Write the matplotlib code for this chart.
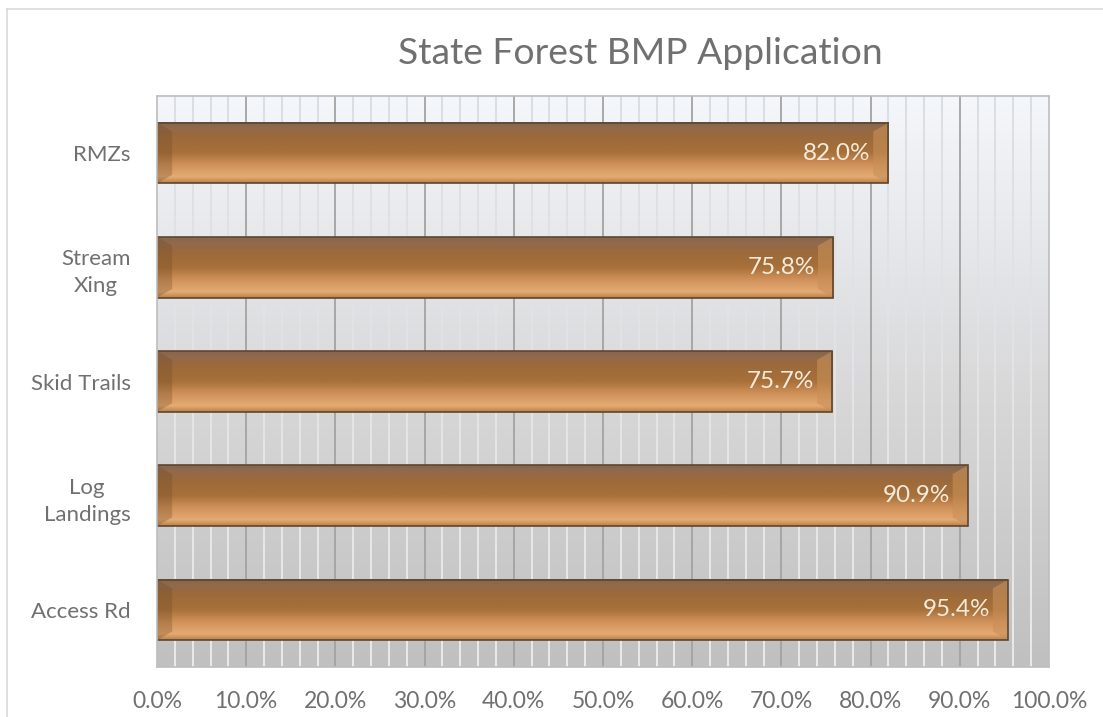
import numpy as np
import matplotlib.pyplot as plt
from matplotlib.colors import LinearSegmentedColormap, to_rgb
from matplotlib.collections import LineCollection
from matplotlib.patches import Polygon, Rectangle
from matplotlib.lines import Line2D

plt.rcParams['font.family'] = ['Lato', 'DejaVu Sans']

# data (bottom to top)
categories = ['Access Rd', 'Log\nLandings', 'Skid Trails', 'Stream\nXing', 'RMZs']
values = [95.4, 90.9, 75.7, 75.8, 82.0]
xticks = [0, 10, 20, 30, 40, 50, 60, 70, 80, 90, 100]

text_gray = '#707070'
W, H = 1103, 717

fig = plt.figure(figsize=(W / 100, H / 100), dpi=100)
# chart area border (only top/left inside the image)
fig.add_artist(Line2D([7 / W, 1], [1 - 9 / H, 1 - 9 / H], color='#d9d9d9', lw=1.2))
fig.add_artist(Line2D([7 / W, 7 / W], [0, 1 - 9 / H], color='#d9d9d9', lw=1.2))

ax = fig.add_axes([157 / W, 1 - 667 / H, (1049 - 157) / W, (667 - 96) / H])
ax.set_xlim(0, 100)
ax.set_ylim(-0.5, len(categories) - 0.5)

# background gradient (light top -> gray bottom)
bg = LinearSegmentedColormap.from_list('bg', ['#c0c0c0', '#d9d9da', '#f4f7fb'])
grad = np.linspace(0, 1, 256).reshape(-1, 1)
ax.imshow(grad, cmap=bg, aspect='auto', extent=(0, 1, 0, 1), origin='lower',
          transform=ax.transAxes, zorder=0)

# minor gridlines, color shifts from white (bottom) to light gray (top)
n = 40
ys = np.linspace(0, 1, n + 1)
c_bot, c_top = np.array(to_rgb('#f2f2f2')), np.array(to_rgb('#d6dae0'))
segs, cols = [], []
for x in np.arange(2, 100, 2):
    if x % 10 == 0:
        continue
    for i in range(n):
        segs.append([(x, ys[i]), (x, ys[i + 1])])
        t = (ys[i] + ys[i + 1]) / 2
        cols.append(c_bot * (1 - t) + c_top * t)
ax.add_collection(LineCollection(segs, colors=cols, linewidths=1.2,
                                 transform=ax.get_xaxis_transform(), zorder=1))
for x in xticks[1:-1]:
    ax.axvline(x, color='#a3a3a3', lw=1.3, zorder=1.5)

# bars with a bevel look
bar_cmap = LinearSegmentedColormap.from_list(
    'bar', [(0, '#b88048'), (0.1, '#e4ab72'), (0.3, '#d0925a'), (0.5, '#a8703a'),
            (0.75, '#9c6a3a'), (0.9, '#92694a'), (1, '#85674e')])
h = 0.53
for i, v in enumerate(values):
    y0, y1 = i - h / 2, i + h / 2
    ax.imshow(grad, cmap=bar_cmap, aspect='auto', extent=(0, v, y0, y1),
              origin='lower', zorder=2)
    bw, bh = 1.7, 0.075
    ax.add_patch(Polygon([(0, y0), (bw, y0 + bh), (bw, y1 - bh), (0, y1)],
                         closed=True, facecolor='#6e4a28', alpha=0.3, lw=0, zorder=2.1))
    ax.add_patch(Polygon([(v, y0), (v - bw, y0 + bh), (v - bw, y1 - bh), (v, y1)],
                         closed=True, facecolor='#c89058', alpha=0.6, lw=0, zorder=2.1))
    ax.add_patch(Rectangle((0, y0), v, h, fill=False, edgecolor='#5e4630', lw=1.2, zorder=2.2))
    ax.text(v - 2.0, i, f'{v:.1f}%', ha='right', va='center', fontsize=17.5,
            color='#f3ecdc', zorder=3)

ax.set_yticks(range(len(categories)))
ax.set_yticklabels(categories, fontsize=16, color=text_gray, linespacing=1.45,
                   multialignment='center')
ax.set_xticks(xticks)
ax.set_xticklabels([f'{x:.1f}%' for x in xticks], fontsize=16.5, color=text_gray)
ax.tick_params(length=0)
ax.tick_params(axis='x', pad=17)
ax.tick_params(axis='y', pad=19)
for s in ax.spines.values():
    s.set_color('#bdbdbd')
    s.set_linewidth(1.2)

fig.text(640 / W, 1 - 53 / H, 'State Forest BMP Application', ha='center', va='center',
         fontsize=26.8, color=text_gray)

fig.savefig('out.png', dpi=100)
